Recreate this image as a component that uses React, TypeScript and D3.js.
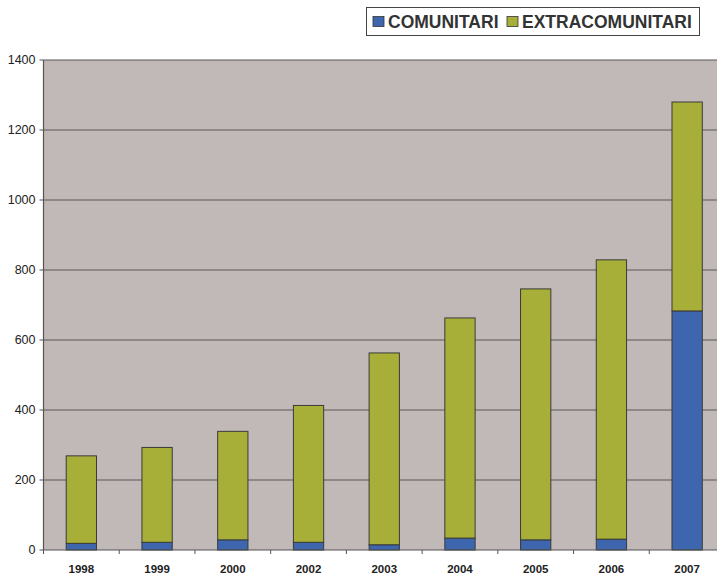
import React, { useRef, useEffect } from "react";
import * as d3 from "d3";

const years = ["1998", "1999", "2000", "2002", "2003", "2004", "2005", "2006", "2007"];
const comunitari = [19, 22, 29, 22, 15, 34, 29, 31, 683];
const extracomunitari = [250, 271, 310, 391, 548, 629, 717, 798, 597];
const yTicks = [0, 200, 400, 600, 800, 1000, 1200, 1400];
const seriesNames = ["COMUNITARI", "EXTRACOMUNITARI"];
const colors = ["#3D66AF", "#A7AF39"];

const App = () => {
  const ref = useRef(null);

  useEffect(() => {
    const svg = d3.select(ref.current);
    svg.selectAll("*").remove();

    const left = 43.5;
    const right = 725; // plot runs slightly past the canvas edge
    const top = 60;
    const bottom = 550;

    const x = d3.scaleBand().domain(years).range([left, right]).paddingInner(0.6).paddingOuter(0.3);
    const y = d3.scaleLinear().domain([0, 1400]).range([bottom, top]);

    // plot background
    svg
      .append("rect")
      .attr("x", left)
      .attr("y", top)
      .attr("width", right - left)
      .attr("height", bottom - top)
      .attr("fill", "#C1B9B7");

    // gridlines
    svg
      .append("g")
      .selectAll("line")
      .data(yTicks.slice(1))
      .enter()
      .append("line")
      .attr("x1", left)
      .attr("x2", right)
      .attr("y1", (d) => y(d))
      .attr("y2", (d) => y(d))
      .attr("stroke", "#5a5656")
      .attr("stroke-width", 1.2);

    const rows = years.map((yr, i) => ({ year: yr, c: comunitari[i], e: extracomunitari[i] }));
    const stacked = d3.stack().keys(["c", "e"])(rows);

    stacked.forEach((layer, li) => {
      svg
        .append("g")
        .selectAll("rect")
        .data(layer)
        .enter()
        .append("rect")
        .attr("x", (d) => x(d.data.year))
        .attr("y", (d) => y(d[1]))
        .attr("width", x.bandwidth())
        .attr("height", (d) => y(d[0]) - y(d[1]))
        .attr("fill", colors[li])
        .attr("stroke", "#3a3a3a")
        .attr("stroke-width", 1);
    });

    // y axis line
    svg
      .append("line")
      .attr("x1", left)
      .attr("x2", left)
      .attr("y1", top)
      .attr("y2", bottom)
      .attr("stroke", "#555")
      .attr("stroke-width", 1.2);

    // x axis line
    svg
      .append("line")
      .attr("x1", left)
      .attr("x2", right)
      .attr("y1", bottom)
      .attr("y2", bottom)
      .attr("stroke", "#555")
      .attr("stroke-width", 1.2);

    // y ticks + labels
    const yg = svg.append("g");
    yTicks.forEach((t) => {
      yg.append("line")
        .attr("x1", left - 4)
        .attr("x2", left)
        .attr("y1", y(t))
        .attr("y2", y(t))
        .attr("stroke", "#555");
      yg.append("text")
        .attr("x", left - 8)
        .attr("y", y(t))
        .attr("dy", "0.35em")
        .attr("text-anchor", "end")
        .attr("font-family", "Liberation Sans, Arial, sans-serif")
        .attr("font-size", 12.5)
        .attr("fill", "#222")
        .text(t);
    });

    // x ticks between categories
    const xg = svg.append("g");
    d3.range(years.length + 1).forEach((i) => {
      const px = left + i * x.step();
      xg.append("line")
        .attr("x1", px)
        .attr("x2", px)
        .attr("y1", bottom)
        .attr("y2", bottom + 4)
        .attr("stroke", "#555");
    });
    years.forEach((yr) => {
      xg.append("text")
        .attr("x", x(yr) + x.bandwidth() / 2)
        .attr("y", 573)
        .attr("text-anchor", "middle")
        .attr("font-family", "Liberation Sans, Arial, sans-serif")
        .attr("font-weight", "bold")
        .attr("font-size", 11.5)
        .attr("fill", "#222")
        .text(yr);
    });

    // legend
    const lg = svg.append("g");
    lg.append("rect")
      .attr("x", 366.5)
      .attr("y", 7.5)
      .attr("width", 333)
      .attr("height", 28)
      .attr("fill", "#fff")
      .attr("stroke", "#444")
      .attr("stroke-width", 1);
    const items = [
      { x: 373, name: seriesNames[0], color: colors[0] },
      { x: 507, name: seriesNames[1], color: colors[1] },
    ];
    items.forEach((it) => {
      lg.append("rect")
        .attr("x", it.x)
        .attr("y", 16.5)
        .attr("width", 11)
        .attr("height", 10)
        .attr("fill", it.color)
        .attr("stroke", "#333")
        .attr("stroke-width", 0.8);
      lg.append("text")
        .attr("x", it.x + 15)
        .attr("y", 27.5)
        .attr("font-family", "Liberation Sans, Arial, sans-serif")
        .attr("font-weight", "bold")
        .attr("font-size", 17.5)
        .attr("fill", "#333")
        .text(it.name);
    });
  }, []);

  return (
    <svg
      ref={ref}
      width={717}
      height={576}
      style={{ position: "absolute", left: 0, top: 0, background: "#fff" }}
    />
  );
};

export default App;
